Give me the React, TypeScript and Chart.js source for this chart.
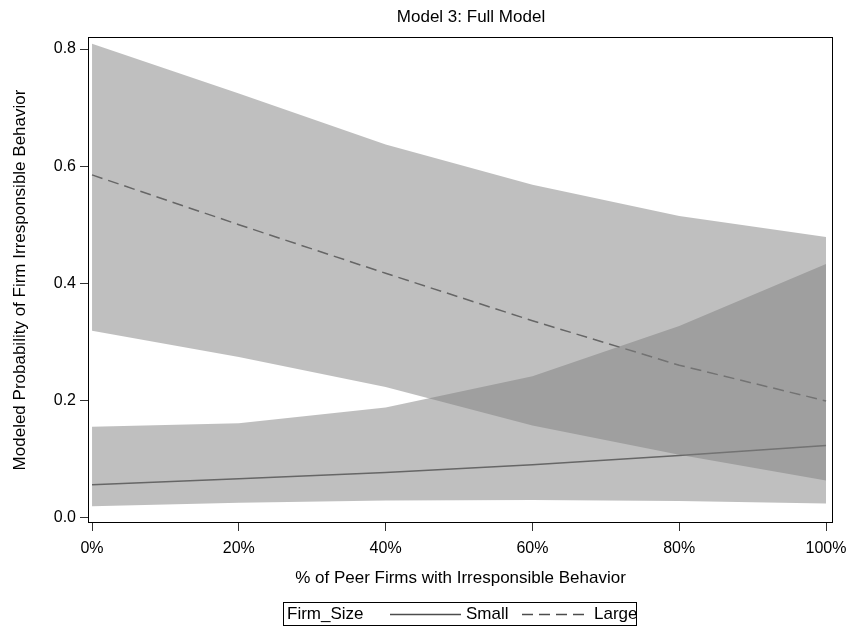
import React, { useEffect, useRef } from "react";
import { Chart, registerables } from "chart.js";

Chart.register(...registerables);

// ---------- data ----------
const titleText = "Model 3: Full Model";
const xAxisTitle = "% of Peer Firms with Irresponsible Behavior";
const yAxisTitle = "Modeled Probability of Firm Irresponsible Behavior";
const legendTitle = "Firm_Size";
const seriesNames = ["Small", "Large"];

const xValues = [0, 20, 40, 60, 80, 100];
const xTickValues = [0, 20, 40, 60, 80, 100];
const yTickValues = [0, 0.2, 0.4, 0.6, 0.8];

const smallPred = [0.056, 0.066, 0.077, 0.09, 0.106, 0.123];
const smallUpper = [0.155, 0.161, 0.188, 0.241, 0.327, 0.433];
const smallLower = [0.019, 0.025, 0.029, 0.03, 0.028, 0.024];

const largePred = [0.585, 0.5, 0.417, 0.336, 0.26, 0.199];
const largeUpper = [0.809, 0.724, 0.637, 0.568, 0.515, 0.479];
const largeLower = [0.319, 0.274, 0.223, 0.157, 0.107, 0.063];

// ---------- styles ----------
const FONT = "'Liberation Sans', Arial, Helvetica, sans-serif";
const LINE_COLOR = "#4c4c4c";
const BAND_COLOR = "rgba(127,127,127,0.5)";
const DASH = [11, 6];

const pts = (ys: number[]) => xValues.map((x, i) => ({ x, y: ys[i] }));

const framePlugin = {
  id: "frame",
  afterDraw(chart: any) {
    const { ctx, chartArea } = chart;
    ctx.save();
    ctx.strokeStyle = "#000";
    ctx.lineWidth = 1;
    ctx.strokeRect(
      Math.round(chartArea.left) + 0.5,
      Math.round(chartArea.top) + 0.5,
      Math.round(chartArea.right - chartArea.left) - 1,
      Math.round(chartArea.bottom - chartArea.top) - 1
    );
    ctx.restore();
  },
};

export default function App() {
  const ref = useRef<HTMLCanvasElement | null>(null);

  useEffect(() => {
    if (!ref.current) return;
    Chart.defaults.font.family = FONT;
    Chart.defaults.color = "#000";
    const band = (data: number[], fill: any) => ({
      data: pts(data),
      borderWidth: 0,
      borderColor: "rgba(0,0,0,0)",
      backgroundColor: BAND_COLOR,
      pointRadius: 0,
      fill,
      tension: 0,
    });
    const chart = new Chart(ref.current, {
      type: "line",
      data: {
        datasets: [
          { label: "largeUpper", ...band(largeUpper, "+1") },
          { label: "largeLower", ...band(largeLower, false) },
          { label: "smallUpper", ...band(smallUpper, "+1") },
          { label: "smallLower", ...band(smallLower, false) },
          {
            label: seriesNames[1],
            data: pts(largePred),
            borderColor: LINE_COLOR,
            borderWidth: 1.5,
            borderDash: DASH,
            pointRadius: 0,
            fill: false,
            tension: 0,
          },
          {
            label: seriesNames[0],
            data: pts(smallPred),
            borderColor: LINE_COLOR,
            borderWidth: 1.5,
            pointRadius: 0,
            fill: false,
            tension: 0,
          },
        ],
      },
      options: {
        animation: false,
        responsive: false,
        maintainAspectRatio: false,
        events: [],
        layout: { padding: { left: 0, right: 24, top: 37, bottom: 32 } },
        plugins: {
          legend: { display: false },
          tooltip: { enabled: false },
          title: { display: false },
        },
        scales: {
          x: {
            type: "linear",
            min: -0.55,
            max: 100.95,
            afterBuildTicks: (s: any) => {
              s.ticks = xTickValues.map((v) => ({ value: v }));
            },
            afterFit: (s: any) => {
              s.height = 72;
            },
            ticks: {
              callback: (v: any) => `${v}%`,
              font: { size: 16, family: FONT },
              color: "#000",
              padding: 8,
              maxRotation: 0,
              autoSkip: false,
            },
            grid: {
              drawOnChartArea: false,
              drawTicks: true,
              tickLength: 8,
              color: "#333",
              tickColor: "#333",
            },
            border: { display: false },
            title: {
              display: true,
              text: xAxisTitle,
              color: "#000",
              font: { size: 17, family: FONT },
              padding: { top: 0, bottom: 6.8 },
            },
          },
          y: {
            type: "linear",
            min: -0.0094,
            max: 0.8205,
            afterBuildTicks: (s: any) => {
              s.ticks = yTickValues.map((v) => ({ value: v }));
            },
            afterFit: (s: any) => {
              s.width = 88;
            },
            ticks: {
              callback: (v: any) => Number(v).toFixed(1),
              font: { size: 16, family: FONT },
              color: "#000",
              padding: 4,
              autoSkip: false,
            },
            grid: {
              drawOnChartArea: false,
              drawTicks: true,
              tickLength: 8,
              color: "#333",
              tickColor: "#333",
            },
            border: { display: false },
            title: {
              display: true,
              text: yAxisTitle,
              color: "#000",
              font: { size: 17, family: FONT },
              padding: { top: 10, bottom: 0 },
            },
          },
        },
      },
      plugins: [framePlugin],
    } as any);
    return () => chart.destroy();
  }, []);

  const textStyle: React.CSSProperties = {
    position: "absolute",
    top: 0,
    lineHeight: "22px",
    fontSize: 17,
    fontFamily: FONT,
    color: "#000",
    whiteSpace: "nowrap",
  };

  return (
    <div style={{ position: "absolute", left: 0, top: 0, width: 857, height: 627, background: "#fff" }}>
      <canvas ref={ref} width={857} height={627} style={{ position: "absolute", left: 0, top: 0, width: 857, height: 627 }} />
      <div
        style={{
          position: "absolute",
          left: 371,
          top: 6,
          width: 200,
          height: 22,
          lineHeight: "22px",
          textAlign: "center",
          fontSize: 17,
          fontFamily: FONT,
          color: "#000",
          whiteSpace: "nowrap",
        }}
      >
        {titleText}
      </div>
      <div
        style={{
          position: "absolute",
          left: 283,
          top: 602,
          width: 352,
          height: 22,
          border: "1px solid #000",
          boxSizing: "content-box",
        }}
      >
        <span style={{ ...textStyle, left: 3 }}>{legendTitle}</span>
        <svg style={{ position: "absolute", left: 106, top: 0 }} width={72} height={22}>
          <line x1={0} y1={11.5} x2={71} y2={11.5} stroke={LINE_COLOR} strokeWidth={1.5} />
        </svg>
        <span style={{ ...textStyle, left: 182 }}>{seriesNames[0]}</span>
        <svg style={{ position: "absolute", left: 238, top: 0 }} width={68} height={22}>
          <line x1={0} y1={11.5} x2={67} y2={11.5} stroke={LINE_COLOR} strokeWidth={1.5} strokeDasharray={DASH.join(" ")} />
        </svg>
        <span style={{ ...textStyle, left: 310 }}>{seriesNames[1]}</span>
      </div>
    </div>
  );
}
